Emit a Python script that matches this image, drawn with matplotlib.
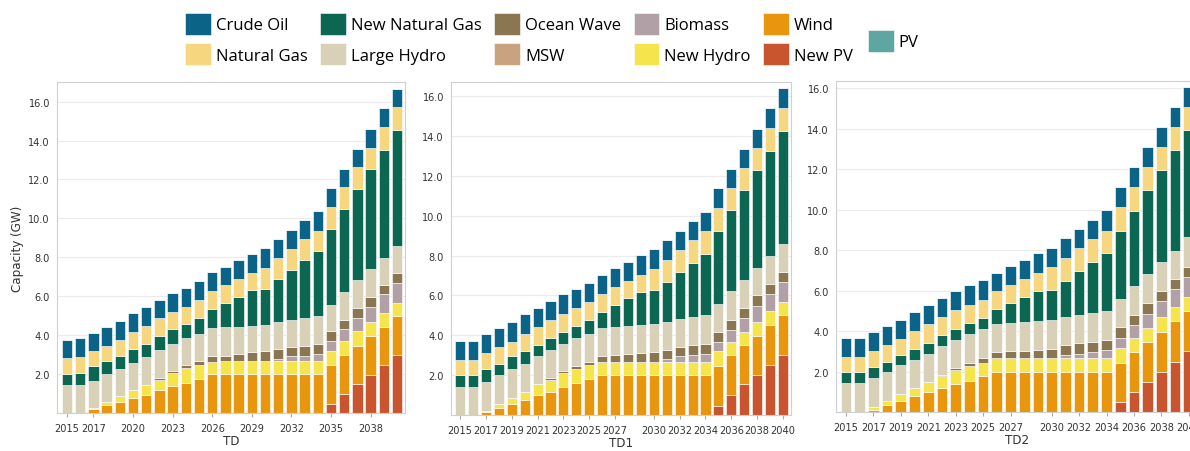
import numpy as np
import matplotlib
matplotlib.use("Agg")
import matplotlib.pyplot as plt
from matplotlib import font_manager
from matplotlib.font_manager import FontProperties

# years on the x axis
years = list(range(2015, 2041))

# ---- panel TD ----
td_new_pv = [0]*20 + [0.48, 0.98, 1.47, 1.96, 2.49, 2.97]
td_wind = [0, 0, 0.18, 0.40, 0.58, 0.77, 0.94, 1.17, 1.37, 1.54, 1.77, 2.0, 2.0, 2.0, 2.0, 2.0,
           2.0, 2.0, 2.0, 2.0, 2.01, 1.99, 1.99, 1.99, 1.94, 1.99]
td_new_hydro = [0, 0, 0.09, 0.18, 0.31, 0.40, 0.52, 0.55, 0.69, 0.76, 0.70, 0.64, 0.65, 0.65, 0.65, 0.65,
                0.65, 0.65, 0.65, 0.65, 0.68, 0.72, 0.74, 0.73, 0.72, 0.70]
td_biomass = [0]*16 + [0.13, 0.27, 0.30, 0.40, 0.52, 0.60, 0.67, 0.77, 0.94, 1.03]
td_ocean = [0]*7 + [0.08, 0.12, 0.17, 0.19, 0.29, 0.30, 0.37, 0.47, 0.52, 0.51, 0.48, 0.51, 0.52,
                    0.51, 0.51, 0.52, 0.50, 0.48, 0.48]
td_large_hydro = [1.45, 1.45, 1.39, 1.41, 1.39, 1.40, 1.44, 1.46, 1.37, 1.39, 1.42, 1.44, 1.46, 1.41, 1.36, 1.34,
                  1.39, 1.40, 1.43, 1.40, 1.37, 1.41, 1.42, 1.43, 1.41, 1.41]
td_new_gas = [0.55, 0.61, 0.74, 0.70, 0.67, 0.72, 0.67, 0.69, 0.74, 0.69, 0.79, 0.98, 1.25, 1.52, 1.83, 1.87,
              2.18, 2.54, 2.95, 3.35, 3.86, 4.25, 4.68, 5.14, 5.54, 5.97]
td_nat_gas = [0.83, 0.82, 0.77, 0.74, 0.79, 0.88, 0.89, 0.92, 0.92, 0.90, 0.96, 0.91, 0.91, 0.95, 0.86, 1.08,
              1.10, 1.10, 1.11, 1.03, 1.17, 1.17, 1.13, 1.10, 1.15, 1.18]
td_crude = [0.93, 0.98, 0.95, 0.98, 0.98, 0.98, 0.98, 0.96, 0.93, 0.98, 0.96, 0.98, 0.91, 0.94, 0.98, 1.00,
            0.99, 0.94, 0.95, 1.03, 0.96, 0.93, 0.96, 0.99, 1.02, 0.94]

# ---- panel TD1 ----
td1_new_pv = [0]*20 + [0.45, 1.00, 1.54, 2.01, 2.52, 3.02]
td1_wind = [0, 0, 0.15, 0.37, 0.55, 0.76, 1.00, 1.17, 1.43, 1.59, 1.80, 2.0, 2.0, 2.0, 2.0, 2.0,
            2.0, 2.0, 2.0, 2.0, 2.03, 2.02, 1.98, 1.98, 2.01, 2.00]
td1_new_hydro = [0, 0, 0.07, 0.17, 0.31, 0.41, 0.56, 0.59, 0.67, 0.73, 0.72, 0.68, 0.68, 0.68, 0.68, 0.68,
                 0.68, 0.68, 0.68, 0.68, 0.71, 0.67, 0.64, 0.67, 0.67, 0.63]
td1_biomass = [0]*16 + [0.12, 0.26, 0.32, 0.39, 0.48, 0.59, 0.71, 0.83, 0.87, 1.03]
td1_ocean = [0]*7 + [0.09, 0.11, 0.16, 0.16, 0.29, 0.34, 0.36, 0.42, 0.47, 0.47, 0.45, 0.49, 0.49,
                     0.49, 0.50, 0.50, 0.52, 0.49, 0.48]
td1_large_hydro = [1.43, 1.43, 1.46, 1.49, 1.47, 1.41, 1.38, 1.42, 1.36, 1.38, 1.38, 1.39, 1.39, 1.44, 1.43, 1.41,
                   1.38, 1.44, 1.43, 1.44, 1.43, 1.43, 1.43, 1.37, 1.44, 1.43]
td1_new_gas = [0.58, 0.58, 0.64, 0.54, 0.61, 0.61, 0.58, 0.62, 0.62, 0.62, 0.72, 0.82, 1.09, 1.38, 1.63, 1.70,
               2.04, 2.33, 2.71, 3.10, 3.64, 4.06, 4.48, 4.90, 5.26, 5.67]
td1_nat_gas = [0.76, 0.76, 0.78, 0.84, 0.75, 0.89, 0.89, 0.89, 0.89, 0.89, 0.87, 0.91, 0.93, 0.89, 0.89, 1.09,
               1.11, 1.13, 1.13, 1.13, 1.17, 1.14, 1.14, 1.14, 1.17, 1.16]
td1_crude = [0.97, 0.97, 0.96, 0.97, 0.96, 0.99, 0.96, 0.96, 0.98, 0.96, 0.98, 0.96, 0.95, 0.95, 0.99, 0.99,
             0.99, 0.97, 0.97, 0.97, 0.98, 0.96, 0.95, 0.96, 0.96, 0.97]

# ---- panel TD2 ----
td2_new_pv = [0]*20 + [0.49, 0.99, 1.48, 1.98, 2.47, 3.00]
td2_wind = [0, 0, 0.12, 0.36, 0.54, 0.77, 0.99, 1.19, 1.40, 1.55, 1.78, 1.98, 1.98, 1.98, 1.98, 1.98,
            1.98, 1.98, 1.98, 1.98, 1.95, 1.97, 1.98, 1.97, 2.01, 1.97]
td2_new_hydro = [0, 0, 0.13, 0.20, 0.37, 0.42, 0.49, 0.57, 0.66, 0.72, 0.66, 0.69, 0.69, 0.69, 0.69, 0.69,
                 0.69, 0.69, 0.69, 0.69, 0.72, 0.69, 0.70, 0.74, 0.71, 0.71]
td2_biomass = [0]*16 + [0.13, 0.21, 0.29, 0.38, 0.49, 0.63, 0.70, 0.78, 0.87, 0.99]
td2_ocean = [0]*7 + [0.08, 0.13, 0.17, 0.23, 0.29, 0.33, 0.36, 0.42, 0.46, 0.49, 0.53, 0.50, 0.51,
                     0.53, 0.53, 0.52, 0.49, 0.52, 0.52]
td2_large_hydro = [1.43, 1.43, 1.43, 1.42, 1.39, 1.39, 1.40, 1.40, 1.35, 1.40, 1.41, 1.37, 1.41, 1.41, 1.40, 1.43,
                   1.43, 1.41, 1.45, 1.43, 1.42, 1.41, 1.42, 1.45, 1.40, 1.44]
td2_new_gas = [0.55, 0.55, 0.54, 0.49, 0.53, 0.55, 0.54, 0.55, 0.58, 0.57, 0.58, 0.74, 0.97, 1.24, 1.47, 1.45,
               1.75, 2.13, 2.50, 2.88, 3.37, 3.74, 4.18, 4.56, 4.97, 5.31]
td2_nat_gas = [0.74, 0.74, 0.78, 0.82, 0.76, 0.87, 0.91, 0.90, 0.90, 0.89, 0.90, 0.89, 0.91, 0.89, 0.90, 1.15,
               1.15, 1.15, 1.12, 1.10, 1.19, 1.15, 1.12, 1.12, 1.12, 1.12]
td2_crude = [0.95, 0.95, 0.95, 0.96, 0.95, 0.95, 0.95, 0.94, 0.97, 0.96, 0.96, 0.92, 0.95, 0.95, 0.98, 0.94,
             0.97, 0.95, 0.98, 1.02, 0.95, 0.99, 0.99, 0.98, 0.99, 0.99]

# MSW and PV never show up in any scenario
msw = [0.0] * 26
pv = [0.0] * 26

colors = {
    "Crude Oil": "#0b6488",
    "Natural Gas": "#f6d77f",
    "New Natural Gas": "#0b6751",
    "Large Hydro": "#d9d0b8",
    "Ocean Wave": "#8a7751",
    "MSW": "#c9a27f",
    "Biomass": "#b1a1a7",
    "New Hydro": "#f5e44b",
    "Wind": "#e8960e",
    "New PV": "#c9552f",
    "PV": "#5ea6a1",
}


# the axis text in the original is very narrow, so look for a condensed sans face
def narrow_font_file():
    found = []
    for f in font_manager.fontManager.ttflist:
        tag = (f.name + " " + f.fname).lower()
        if "serif" in tag.replace("sans", "") or "mono" in tag:
            continue
        if f.style != "normal" or f.weight not in (400, "normal", "regular"):
            continue
        if "condensed" in str(f.stretch) or "narrow" in tag or "condensed" in tag:
            if "semi" in tag or "extra" in tag or "ultra" in tag:
                continue
            found.append(f.fname)
    return sorted(found)[0] if found else None


narrow = narrow_font_file()
if narrow:
    tick_fp = FontProperties(fname=narrow, size=7.8)
    label_fp = FontProperties(fname=narrow, size=9.5)
else:
    tick_fp = FontProperties(family="Lato", size=7.5)
    label_fp = FontProperties(family="Lato", size=9)
legend_font = "Open Sans"

panels = [
    ("TD", [td_new_pv, td_wind, td_new_hydro, td_biomass, msw, td_ocean, td_large_hydro,
            td_new_gas, td_nat_gas, td_crude, pv],
     [0.0479, 0.0841, 0.2924, 0.732], (-0.76, 25.6), 17.0,
     [2015, 2017, 2020, 2023, 2026, 2029, 2032, 2035, 2038]),
    ("TD1", [td1_new_pv, td1_wind, td1_new_hydro, td1_biomass, msw, td1_ocean, td1_large_hydro,
             td1_new_gas, td1_nat_gas, td1_crude, pv],
     [0.379, 0.0796, 0.2857, 0.737], (-0.7, 25.62), 16.72,
     [2015, 2017, 2019, 2021, 2023, 2025, 2027, 2030, 2032, 2034, 2036, 2038, 2040]),
    ("TD2", [td2_new_pv, td2_wind, td2_new_hydro, td2_biomass, msw, td2_ocean, td2_large_hydro,
             td2_new_gas, td2_nat_gas, td2_crude, pv],
     [0.7025, 0.0863, 0.304, 0.732], (-0.73, 25.65), 16.36,
     [2015, 2017, 2019, 2021, 2023, 2025, 2027, 2030, 2032, 2034, 2036, 2038, 2040]),
]
stack_names = ["New PV", "Wind", "New Hydro", "Biomass", "MSW", "Ocean Wave", "Large Hydro",
               "New Natural Gas", "Natural Gas", "Crude Oil", "PV"]

fig = plt.figure(figsize=(11.9, 4.52), dpi=100)
x = np.arange(len(years))
handles = {}

for title, series, pos, xlim, ytop, shown in panels:
    ax = fig.add_axes(pos)
    bottom = np.zeros(len(years))
    for name, vals in zip(stack_names, series):
        vals = np.array(vals, dtype=float)
        bars = ax.bar(x, vals, bottom=bottom, width=0.78, color=colors[name],
                      edgecolor="white", linewidth=0.4, label=name, zorder=2)
        handles[name] = bars
        bottom += vals

    ax.set_xlim(*xlim)
    ax.set_ylim(0, ytop)
    ax.set_yticks(np.arange(2, 17, 2))
    ax.set_yticklabels([f"{v:.1f}" for v in np.arange(2, 17, 2)], fontproperties=tick_fp,
                       color="#333333")
    ax.set_xticks([years.index(y) for y in shown])
    ax.set_xticklabels([str(y) for y in shown], fontproperties=tick_fp, color="#333333")
    ax.tick_params(axis="y", length=0, pad=5)
    ax.tick_params(axis="x", length=3, color="#aaaaaa", pad=4)
    ax.grid(axis="y", color="#ebebeb", linewidth=0.8, zorder=0)
    ax.set_axisbelow(True)
    for sp in ax.spines.values():
        sp.set_color("#cfcfcf")
        sp.set_linewidth(0.8)
    ax.set_xlabel(title, fontproperties=label_fp, color="#333333", labelpad=1)
    if title == "TD":
        ax.set_ylabel("Capacity (GW)", fontproperties=label_fp, color="#333333", labelpad=3)

# legend: two rows of five, PV on its own to the right
order = ["Crude Oil", "Natural Gas", "New Natural Gas", "Large Hydro", "Ocean Wave", "MSW",
         "Biomass", "New Hydro", "Wind", "New PV"]
leg_kw = dict(frameon=False, handlelength=1.55, handleheight=1.65,
              handletextpad=0.3, borderpad=0, borderaxespad=0, labelspacing=0.5,
              columnspacing=0.75, prop={"family": legend_font, "size": 12})
fig.legend([handles[n] for n in order], order, ncol=5, loc="upper left",
           bbox_to_anchor=(0.1555, 0.969), **leg_kw)
fig.legend([handles["PV"]], ["PV"], loc="upper left",
           bbox_to_anchor=(0.7294, 0.932), **leg_kw)

fig.savefig("out.png", dpi=100)
